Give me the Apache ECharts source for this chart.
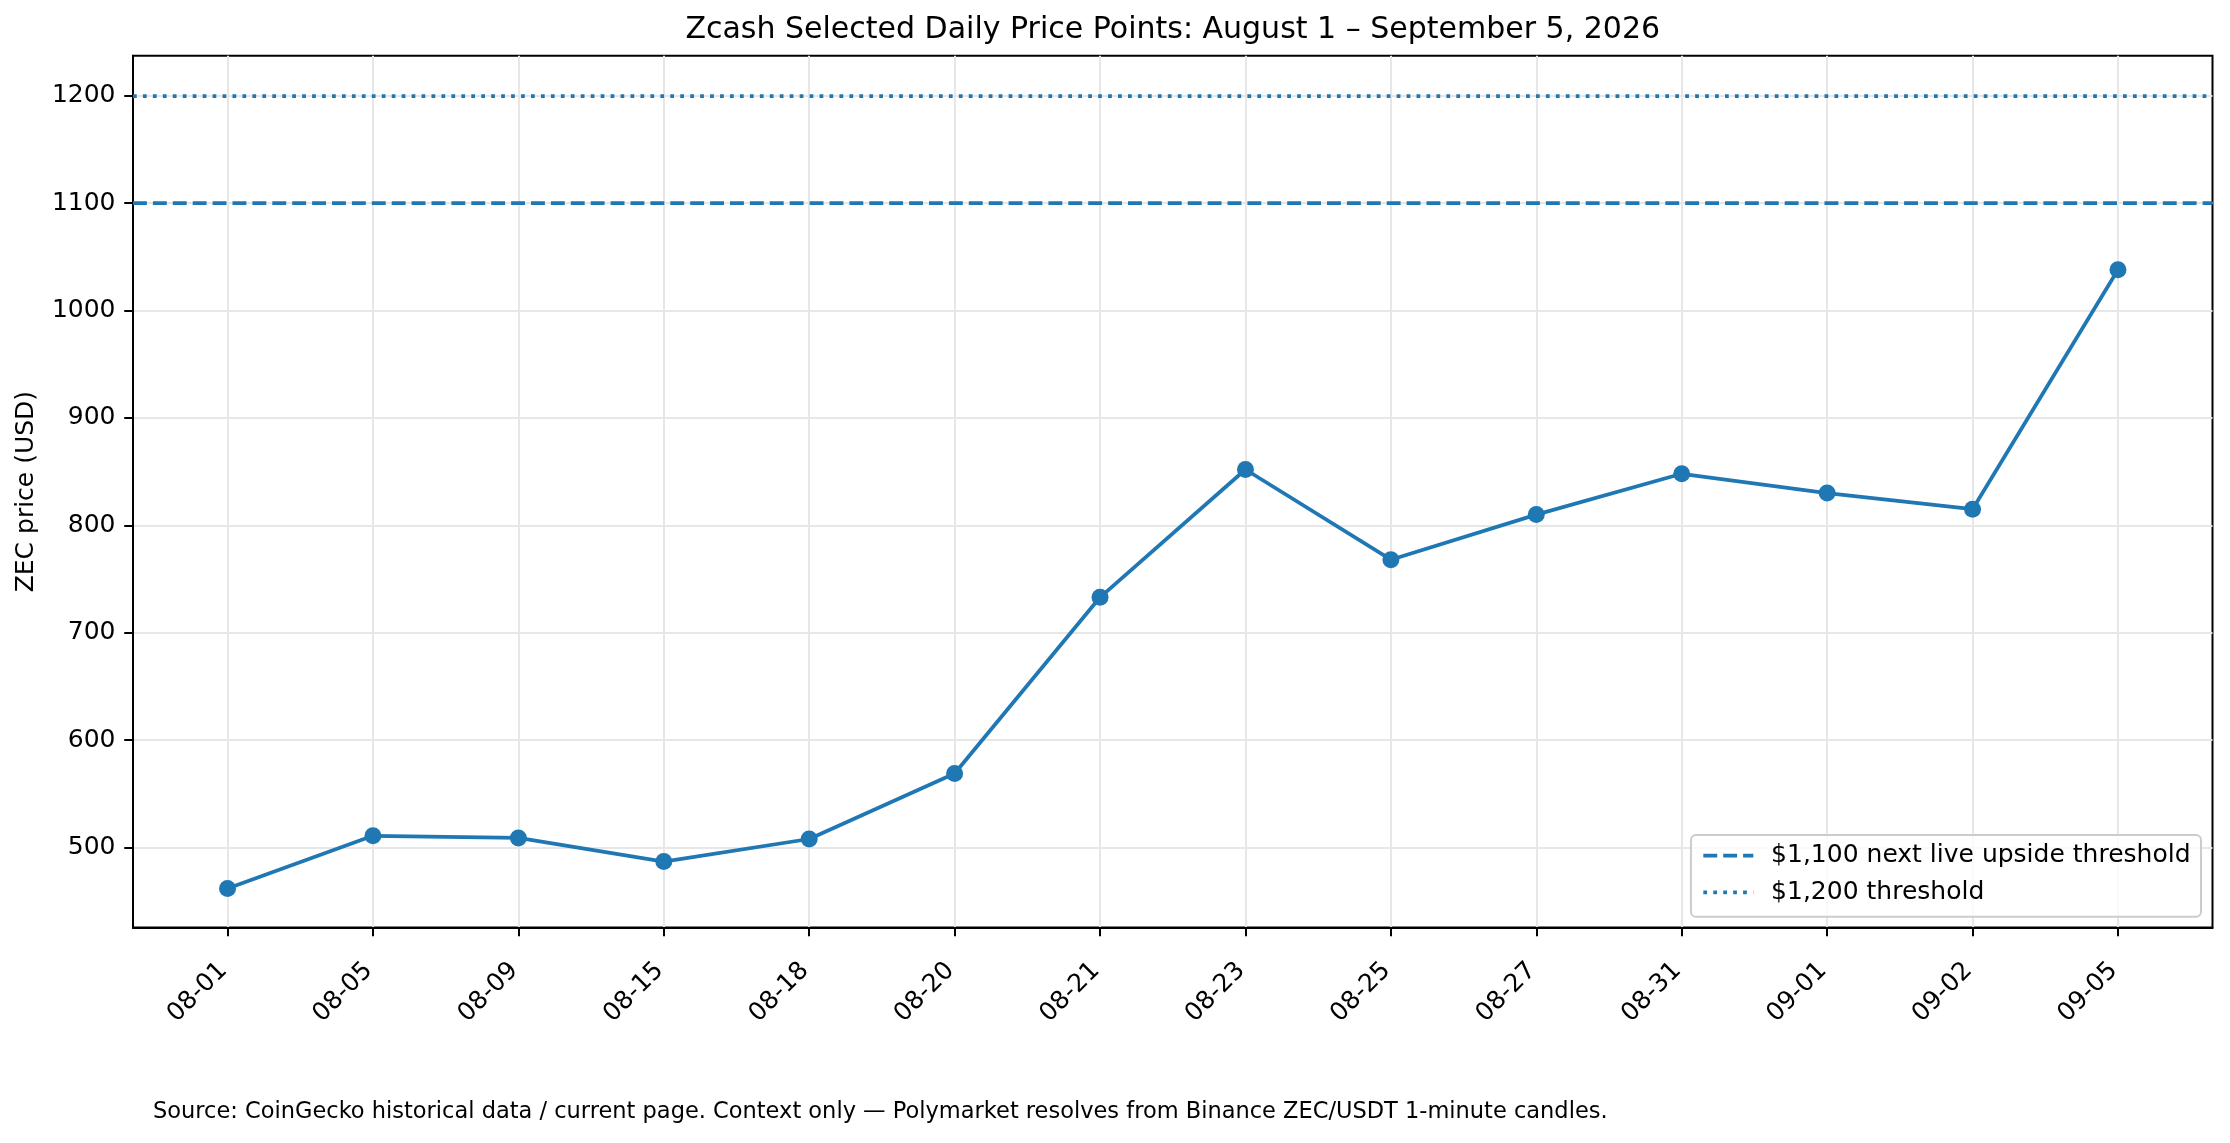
<!DOCTYPE html>
<html>
<head>
<meta charset="utf-8">
<script src="https://cdn.jsdelivr.net/npm/echarts@6/dist/echarts.min.js"></script>
<style>
html, body { margin: 0; padding: 0; background: #ffffff; }
#chart { width: 2230px; height: 1143px; }
</style>
</head>
<body>
<div id="chart"></div>
<script>
// ---- data ----
const dates = ['08-01', '08-05', '08-09', '08-15', '08-18', '08-20', '08-21', '08-23', '08-25', '08-27', '08-31', '09-01', '09-02', '09-05'];
const prices = [462, 511, 509, 487, 508, 569, 733, 852, 768, 810, 848, 830, 815, 1038];
const yTicks = [500, 600, 700, 800, 900, 1000, 1100, 1200];
const thresholdValues = [1100, 1200];
const thresholdNames = ['$1,100 next live upside threshold', '$1,200 threshold'];
const titleText = 'Zcash Selected Daily Price Points: August 1 \u2013 September 5, 2026';
const sourceText = 'Source: CoinGecko historical data / current page. Context only \u2014 Polymarket resolves from Binance ZEC/USDT 1-minute candles.';
const yAxisName = 'ZEC price (USD)';

// ---- styling ----
const FONT = 'DejaVu Sans';
const BLUE = '#1f77b4';
const GRID_COLOR = '#e7e7e7';
const gridLeft = 133, gridRight = 17.5, gridTop = 55.7, gridBottom = 215.5;
const W = 2230;
const xIdx = dates.map((d, i) => i);
const thresholdDash = [[13.9, 6], [3.75, 6.2]];
const LW = 3.75;

const chart = echarts.init(document.getElementById('chart'), null, { renderer: 'canvas' });

const series = [{
  type: 'line',
  name: 'price',
  data: prices.map((p, i) => [i, p]),
  symbol: 'circle',
  symbolSize: 17,
  lineStyle: { color: BLUE, width: LW },
  itemStyle: { color: BLUE },
  z: 4,
  silent: true,
  emphasis: { disabled: true }
}];
thresholdValues.forEach((v, k) => {
  series.push({
    type: 'line',
    name: thresholdNames[k],
    data: [],
    symbol: 'none',
    lineStyle: { color: BLUE, width: LW, type: thresholdDash[k], opacity: 1 },
    itemStyle: { color: 'rgba(0,0,0,0)', borderWidth: 0 },
    z: 3,
    markLine: {
      silent: true,
      symbol: ['none', 'none'],
      label: { show: false },
      emphasis: { disabled: true },
      animation: false,
      lineStyle: { color: BLUE, width: LW, type: thresholdDash[k], opacity: 1 },
      data: [{ yAxis: v }]
    }
  });
});

const option = {
  animation: false,
  backgroundColor: '#ffffff',
  title: [{
    text: titleText,
    left: gridLeft + (W - gridLeft - gridRight) / 2,
    top: 15.4,
    textAlign: 'center',
    padding: 0,
    textStyle: { fontFamily: FONT, fontSize: 30, fontWeight: 'normal', color: '#000', lineHeight: 30 }
  }, {
    text: sourceText,
    left: 153,
    top: 1101,
    padding: 0,
    textStyle: { fontFamily: FONT, fontSize: 22.5, fontWeight: 'normal', color: '#000', lineHeight: 22.5 }
  }],
  legend: {
    data: thresholdNames,
    orient: 'vertical',
    align: 'left',
    right: 29,
    bottom: 226.3,
    itemWidth: 50,
    itemHeight: 14,
    itemGap: 8.6,
    padding: [6.7, 10.5, 10.4, 10.5],
    backgroundColor: 'rgba(255,255,255,0.8)',
    borderColor: '#cccccc',
    borderWidth: 2,
    borderRadius: 5,
    selectedMode: false,
    lineStyle: { color: BLUE, width: LW, opacity: 1 },
    itemStyle: { color: 'rgba(0,0,0,0)', borderColor: 'rgba(0,0,0,0)', borderWidth: 0 },
    textStyle: { fontFamily: FONT, fontSize: 25, color: '#000', lineHeight: 28, padding: [0, 0, 0, 12.8] }
  },
  grid: {
    left: gridLeft, right: gridRight, top: gridTop, bottom: gridBottom,
    show: true, borderColor: '#000', borderWidth: 2, backgroundColor: 'transparent'
  },
  xAxis: {
    type: 'value',
    min: -0.65,
    max: 13.65,
    axisLine: { show: true, onZero: false, lineStyle: { color: '#000', width: 2 } },
    axisTick: { show: true, customValues: xIdx, length: 8.75, lineStyle: { color: '#000', width: 2 } },
    axisLabel: {
      customValues: xIdx,
      formatter: v => dates[Math.round(v)],
      rotate: 45,
      margin: 35,
      padding: [0, 6, 12, 0],
      fontFamily: FONT, fontSize: 25, color: '#000'
    },
    splitLine: { show: true, lineStyle: { color: GRID_COLOR, width: 2 } }
  },
  yAxis: {
    type: 'value',
    min: 425.6,
    max: 1237.2,
    name: yAxisName,
    nameLocation: 'middle',
    nameRotate: 90,
    nameGap: 91.6,
    nameTextStyle: { fontFamily: FONT, fontSize: 25, color: '#000', lineHeight: 28 },
    axisLine: { show: true, onZero: false, lineStyle: { color: '#000', width: 2 } },
    axisTick: { show: true, customValues: yTicks, length: 8.75, lineStyle: { color: '#000', width: 2 } },
    axisLabel: {
      customValues: yTicks,
      formatter: v => String(v),
      margin: 17.5,
      fontFamily: FONT, fontSize: 25, color: '#000'
    },
    splitLine: { show: true, lineStyle: { color: GRID_COLOR, width: 2 } }
  },
  series: series
};

chart.setOption(option);
</script>
</body>
</html>
